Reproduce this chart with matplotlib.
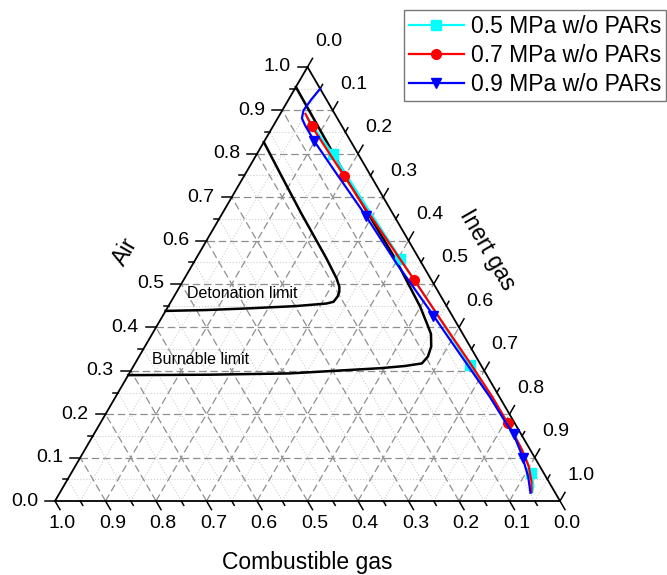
import numpy as np
import matplotlib.pyplot as plt
from matplotlib.transforms import offset_copy

plt.rcParams['font.family'] = ['Liberation Sans', 'DejaVu Sans']

H = np.sqrt(3) / 2

# gas fractions along each curve: combustible, air (inert gas = 1 - both)
p05_comb = [0.058, 0.055, 0.050, 0.044, 0.037, 0.030, 0.022, 0.015, 0.014, 0.018, 0.024, 0.035, 0.045]
p05_air = [0.885, 0.840, 0.799, 0.680, 0.558, 0.450, 0.313, 0.200, 0.150, 0.100, 0.065, 0.035, 0.020]
p05_marks = [2, 4, 6, 10]

p07_comb = [0.058, 0.060, 0.053, 0.050, 0.040, 0.034, 0.026, 0.020, 0.014, 0.014, 0.016, 0.022, 0.034, 0.046]
p07_air = [0.892, 0.864, 0.749, 0.694, 0.580, 0.509, 0.400, 0.330, 0.240, 0.179, 0.120, 0.080, 0.045, 0.021]
p07_marks = [1, 2, 5, 9]

p09_comb = [0.000, 0.030, 0.058, 0.070, 0.072, 0.072, 0.066, 0.062, 0.056, 0.050, 0.037, 0.032,
            0.025, 0.019, 0.017, 0.015, 0.021, 0.024, 0.035, 0.049]
p09_air = [0.950, 0.925, 0.900, 0.882, 0.866, 0.829, 0.760, 0.720, 0.657, 0.548, 0.427, 0.371,
           0.300, 0.240, 0.179, 0.154, 0.115, 0.100, 0.056, 0.019]
p09_marks = [5, 8, 10, 15, 17]

# flammability boundaries
deto_comb = [0.562, 0.480, 0.392, 0.300, 0.235, 0.219, 0.205, 0.196, 0.190, 0.186, 0.183, 0.181, 0.177, 0.173]
deto_air = [0.438, 0.440, 0.444, 0.449, 0.455, 0.459, 0.471, 0.482, 0.494, 0.513, 0.560, 0.663, 0.750, 0.827]

burn_comb = [0.710, 0.550, 0.388, 0.203, 0.152, 0.115, 0.095, 0.077, 0.063, 0.059, 0.053, 0.047, 0.050, 0.046]
burn_air = [0.290, 0.291, 0.294, 0.306, 0.311, 0.317, 0.333, 0.356, 0.385, 0.409, 0.448, 0.560, 0.717, 0.954]

ticks = np.round(np.arange(0, 1.01, 0.1), 1)
minor = np.round(np.arange(0.05, 1.0, 0.1), 2)


def to_xy(comb, air):
    comb = np.asarray(comb)
    air = np.asarray(air)
    inert = 1 - comb - air
    return inert + 0.5 * air, air * H


fig = plt.figure(figsize=(6.67, 5.75), dpi=100)
ax = fig.add_axes([55 / 667, 74 / 575, 505 / 667, 434 / 575])
ax.set_xlim(0, 1)
ax.set_ylim(0, H)
ax.axis('off')

# grid
for vals, ls, col, lw in [(minor, ':', '#cfcfcf', 0.8), (ticks[1:-1], (0, (6, 3)), '#8f8f8f', 0.9)]:
    for k in vals:
        ax.plot([0.5 * k, 1 - 0.5 * k], [k * H, k * H], ls=ls, color=col, lw=lw, zorder=1)
        ax.plot([1 - k, 0.5 * (1 - k)], [0, (1 - k) * H], ls=ls, color=col, lw=lw, zorder=1)
        ax.plot([k, k + 0.5 * (1 - k)], [0, (1 - k) * H], ls=ls, color=col, lw=lw, zorder=1)

# triangle frame
ax.plot([0, 1, 0.5, 0], [0, 0, H, 0], color='black', lw=1.3, zorder=3, clip_on=False)

# ticks and tick labels
px = 1 / 505
for vals, L in [(ticks, 10), (minor, 5)]:
    for k in vals:
        # air, left side
        ax.plot([0.5 * k, 0.5 * k - L * px], [k * H, k * H], color='black', lw=1.1, clip_on=False)
        # combustible, bottom
        ax.plot([1 - k, 1 - k + 0.5 * L * px], [0, -H * L * px], color='black', lw=1.1, clip_on=False)
        # inert, right side
        x0, y0 = k + 0.5 * (1 - k), (1 - k) * H
        ax.plot([x0, x0 + 0.5 * L * px], [y0, y0 + H * L * px], color='black', lw=1.1, clip_on=False)

left_tr = offset_copy(ax.transData, fig=fig, x=-17, y=0, units='dots')
bot_tr = offset_copy(ax.transData, fig=fig, x=7, y=-23, units='dots')
right_tr = offset_copy(ax.transData, fig=fig, x=21, y=26, units='dots')
for k in ticks:
    lab = f'{k:.1f}'
    ax.text(0.5 * k, k * H, lab, transform=left_tr, ha='right', va='center', fontsize=14)
    ax.text(1 - k, 0, lab, transform=bot_tr, ha='center', va='center', fontsize=14)
    ax.text(k + 0.5 * (1 - k), (1 - k) * H, lab, transform=right_tr, ha='center', va='center', fontsize=14)

fig.text(125 / 667, 1 - 252 / 575, 'Air', rotation=60, ha='center', va='center', fontsize=16.5)
fig.text(487 / 667, 1 - 250 / 575, 'Inert gas', rotation=-60, ha='center', va='center', fontsize=16.5)
fig.text(307 / 667, 1 - 562 / 575, 'Combustible gas', ha='center', va='center', fontsize=16.5)

# limit curves
x, y = to_xy(deto_comb, deto_air)
ax.plot(x, y, color='black', lw=1.8, zorder=4, solid_joinstyle='round')
x, y = to_xy(burn_comb, burn_air)
ax.plot(x, y, color='black', lw=1.8, zorder=4, solid_joinstyle='round')
fig.text(187 / 667, 1 - 293 / 575, 'Detonation limit', ha='left', va='center', fontsize=11.5)
fig.text(152 / 667, 1 - 359 / 575, 'Burnable limit', ha='left', va='center', fontsize=11.5)

# pressure series
series = [
    (p05_comb, p05_air, p05_marks, '#00FFFF', 's', '0.5 MPa w/o PARs'),
    (p07_comb, p07_air, p07_marks, '#FF0000', 'o', '0.7 MPa w/o PARs'),
    (p09_comb, p09_air, p09_marks, '#0000FF', 'v', '0.9 MPa w/o PARs'),
]
for comb, air, marks, col, mk, lab in series:
    x, y = to_xy(comb, air)
    ax.plot(x, y, color=col, lw=1.6, marker=mk, markevery=marks, ms=7,
            label=lab, zorder=5, solid_joinstyle='round', clip_on=False)

leg = ax.legend(loc='upper right', bbox_to_anchor=(666 / 667, 1 - 10 / 575),
                bbox_transform=fig.transFigure, fontsize=16.5, frameon=True, fancybox=False,
                handlelength=2.4, handletextpad=0.3, labelspacing=0.27, borderpad=0.22,
                borderaxespad=0)
leg.get_frame().set_edgecolor('#555555')
leg.get_frame().set_linewidth(1.0)

fig.savefig('out.png', dpi=100)
